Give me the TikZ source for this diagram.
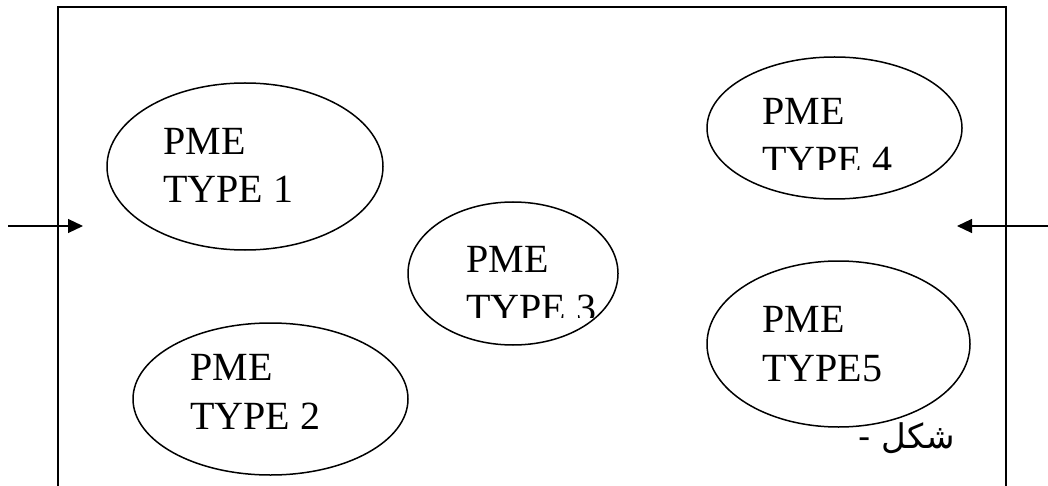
\documentclass[tikz,border=0pt]{standalone}
\usepackage{fontspec}
\setmainfont{Liberation Serif}
\newfontfamily\arabicfont[Script=Arabic]{DejaVu Sans}
\TeXXeTstate=1
\usetikzlibrary{shapes.geometric,arrows.meta}

\begin{document}
\begin{tikzpicture}[x=0.5pt,y=-0.5pt,
  pme/.style={draw,ellipse,line width=0.75pt,inner sep=0pt},
  pmetext/.style={anchor=base west,inner sep=0pt,align=left,font=\fontsize{20}{24.5}\selectfont},
  feed/.style={line width=0.6pt,-{Triangle[length=7.5pt,width=7pt]}}]
\useasboundingbox (0,0) rectangle (1048,486);
\clip (0,0) rectangle (1048,486);
% frame
\draw [line width=1pt] (58,7) rectangle (1006,500);
% ellipses
\node [pme,minimum width=138pt,minimum height=83.5pt] (e1) at (245,166.5) {};
\node [pme,minimum width=137.5pt,minimum height=76pt] (e2) at (270.5,399) {};
\node [pme,minimum width=105pt,minimum height=71.5pt] (e3) at (513,273.5) {};
\node [pme,minimum width=127.5pt,minimum height=71pt] (e4) at (834.5,128) {};
\node [pme,minimum width=131.5pt,minimum height=83pt] (e5) at (838.5,344) {};
% labels (base = last line)
\node [pmetext] (t1) at (163,203) {PME\\TYPE 1};
\node [pmetext] (t2) at (190,429) {PME\\TYPE 2};
\begin{scope}
\clip (400,200) rectangle (620,317);
\node [pmetext] (t3) at (466,321) {PME\\TYPE 3};
\end{scope}
\begin{scope}
\clip (700,50) rectangle (960,170);
\node [pmetext] (t4) at (762,174) {PME\\TYPE 4};
\end{scope}
\node [pmetext] (t5) at (762,381) {PME\\TYPE5};
\node [anchor=base east,inner sep=0pt,font=\arabicfont\fontsize{17}{19}\selectfont] (fig) at (955,448) {\beginR شكل -\endR};
% arrows
\coordinate (inL) at (8,226);
\coordinate (tipL) at (83,226);
\coordinate (inR) at (1050,226);
\coordinate (tipR) at (957,226);
\draw [feed] (inL) -- (tipL);
\draw [feed] (inR) -- (tipR);
\end{tikzpicture}
\end{document}
